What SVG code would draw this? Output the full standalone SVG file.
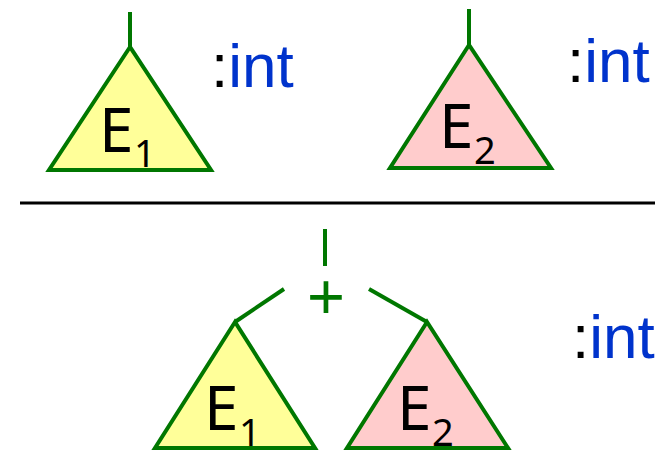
<svg xmlns="http://www.w3.org/2000/svg" width="670" height="450" viewBox="0 0 670 450">
<style>
.tri{stroke:#007700;stroke-width:4;stroke-linejoin:miter}
.y{fill:#ffff99}
.p{fill:#ffcccc}
.ln{stroke:#007700;stroke-width:4;fill:none}
.E{font-family:"Noto Sans","Liberation Sans",sans-serif;font-size:62px;fill:#000}
.s{font-family:"Noto Sans","Liberation Sans",sans-serif;font-size:38px;fill:#000}
.ty{font-family:"Liberation Sans",Arial,sans-serif;font-size:62px;fill:#0033cc}
.c{fill:#000}
.plus{font-family:"Liberation Sans",Arial,sans-serif;font-size:65px;fill:#007700}
</style>
<rect width="670" height="450" fill="#fff"/>
<g id="connectors">
<line class="ln" x1="130" y1="12" x2="130" y2="47"/>
<line class="ln" x1="469" y1="9" x2="469" y2="45"/>
<line class="ln" x1="325" y1="229" x2="325" y2="266"/>
<line class="ln" x1="284" y1="289" x2="235" y2="322"/>
<line class="ln" x1="369" y1="289" x2="427" y2="322"/>
</g>
<g id="E1top">
<polygon class="tri y" points="130,47 49,170 211,170"/>
<text class="E" x="99" y="152">E</text><text class="s" x="134" y="167">1</text>
</g>
<g id="type1"><text class="ty" x="211" y="87"><tspan class="c">:</tspan>int</text></g>
<g id="E2top">
<polygon class="tri p" points="469,45 390,168 551,168"/>
<text class="E" x="439" y="148">E</text><text class="s" x="474" y="164">2</text>
</g>
<g id="type2"><text class="ty" x="567" y="82"><tspan class="c">:</tspan>int</text></g>
<line x1="20" y1="203" x2="655" y2="203" stroke="#000" stroke-width="3"/>
<g id="plus"><text class="plus" x="326" y="319" text-anchor="middle">+</text></g>
<g id="E1bot">
<polygon class="tri y" points="235,322 155,448 315,448"/>
<text class="E" x="204" y="430">E</text><text class="s" x="239" y="446">1</text>
</g>
<g id="E2bot">
<polygon class="tri p" points="427,322 347,448 508,448"/>
<text class="E" x="397" y="430">E</text><text class="s" x="432" y="446">2</text>
</g>
<g id="type3"><text class="ty" x="572" y="358"><tspan class="c">:</tspan>int</text></g>
</svg>
